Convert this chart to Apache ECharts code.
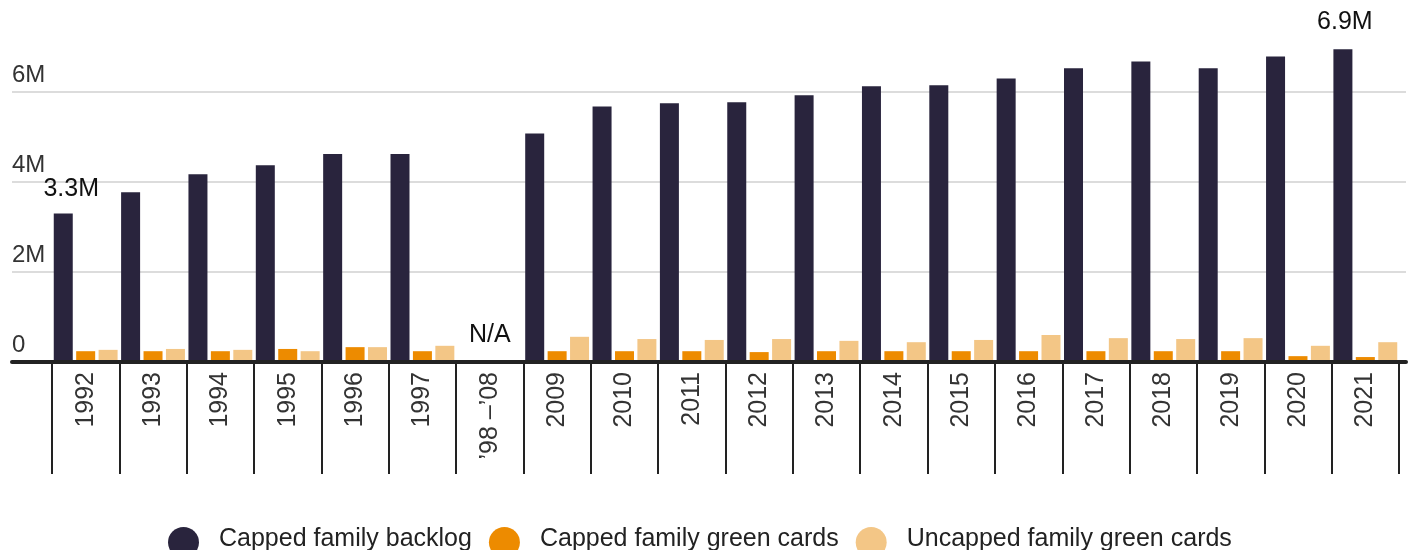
<!DOCTYPE html>
<html>
<head>
<meta charset="utf-8">
<script src="https://cdn.jsdelivr.net/npm/echarts@6/dist/echarts.min.js"></script>
<style>
  html, body { margin: 0; padding: 0; background: #fff; }
  #chart { width: 1413px; height: 550px; }
</style>
</head>
<body>
<div id="chart"></div>
<script>
// years on the category axis ('98–'08 has no data)
const years = ['1992', '1993', '1994', '1995', '1996', '1997', '\u201998 \u2013\u201908',
  '2009', '2010', '2011', '2012', '2013', '2014', '2015', '2016', '2017', '2018', '2019', '2020', '2021'];

// values in millions
const cappedBacklog = [3.30, 3.77, 4.17, 4.37, 4.62, 4.62, null,
  5.08, 5.68, 5.75, 5.77, 5.93, 6.13, 6.15, 6.30, 6.53, 6.68, 6.53, 6.79, 6.95];
const cappedGreenCards = [0.24, 0.24, 0.24, 0.29, 0.33, 0.24, null,
  0.24, 0.24, 0.24, 0.22, 0.24, 0.24, 0.24, 0.24, 0.24, 0.24, 0.24, 0.13, 0.11];
const uncappedGreenCards = [0.27, 0.29, 0.27, 0.24, 0.33, 0.36, null,
  0.56, 0.51, 0.49, 0.51, 0.47, 0.44, 0.49, 0.60, 0.53, 0.51, 0.53, 0.36, 0.44];

const yTicks = [0, 2, 4, 6];

const FONT = '"Liberation Sans", Arial, sans-serif';
const COLORS = { backlog: '#29243d', capped: '#ed8b00', uncapped: '#f3c686' };

const chart = echarts.init(document.getElementById('chart'));

const lastIdx = cappedBacklog.length - 1;
const backlogData = cappedBacklog.map((v, i) => {
  if (i === 0) {
    return { value: v, label: { show: true, formatter: '3.3M', offset: [8, 0] } };
  }
  if (i === lastIdx) {
    return { value: v, label: { show: true, formatter: '6.9M', offset: [2, -3] } };
  }
  return v;
});

const option = {
  animation: false,
  textStyle: { fontFamily: FONT },
  grid: [
    // background grid: gridlines + baseline, wider than the bars
    { left: 12, right: 7, top: 2, bottom: 188 },
    // bars
    { left: 52, right: 14, top: 2, bottom: 188 }
  ],
  legend: {
    left: 163,
    top: 522,
    icon: 'circle',
    itemWidth: 31,
    itemHeight: 31,
    itemGap: 17,
    // extra empty line under the name lifts the text above the circle's centre
    formatter: name => '{t|' + name + '}\n{s|}',
    textStyle: {
      padding: [0, 0, 0, 15],
      rich: {
        t: { fontSize: 25, color: '#222', fontFamily: FONT },
        s: { height: 6, fontSize: 1 }
      }
    },
    data: ['Capped family backlog', 'Capped family green cards', 'Uncapped family green cards']
  },
  xAxis: [
    {
      gridIndex: 0,
      type: 'value',
      min: 0,
      max: 1,
      z: 5,
      axisLine: { show: true, onZero: true, lineStyle: { color: '#222', width: 4 } },
      axisTick: { show: false },
      axisLabel: { show: false },
      splitLine: { show: false }
    },
    {
      gridIndex: 1,
      type: 'category',
      data: years,
      axisLine: { show: false },
      axisTick: { show: true, length: 112, lineStyle: { color: '#222', width: 2 } },
      axisLabel: {
        rotate: 90,
        margin: 10,
        fontSize: 25,
        color: '#333',
        fontFamily: FONT
      }
    }
  ],
  yAxis: [
    {
      gridIndex: 0,
      type: 'value',
      min: 0,
      max: 8,
      interval: 2,
      axisLine: { show: false },
      axisTick: { show: false },
      axisLabel: {
        inside: true,
        margin: 0,
        fontSize: 24,
        color: '#333',
        verticalAlign: 'bottom',
        padding: [0, 0, 5, 0],
        showMaxLabel: false,
        formatter: v => (yTicks.includes(v) ? (v === 0 ? '0' : v + 'M') : '')
      },
      splitLine: { show: true, showMaxLine: false, lineStyle: { color: '#dcdcdc', width: 2 } }
    },
    {
      gridIndex: 1,
      type: 'value',
      min: 0,
      max: 8,
      interval: 2,
      show: false,
      splitLine: { show: false }
    }
  ],
  series: [
    {
      name: 'Capped family backlog',
      type: 'bar',
      xAxisIndex: 1,
      yAxisIndex: 1,
      barWidth: 19,
      barGap: '18%',
      itemStyle: { color: COLORS.backlog },
      label: {
        show: false,
        position: 'top',
        distance: 12,
        fontSize: 25,
        color: '#111',
        fontFamily: FONT
      },
      data: backlogData
    },
    {
      name: 'Capped family green cards',
      type: 'bar',
      xAxisIndex: 1,
      yAxisIndex: 1,
      barWidth: 19,
      barGap: '18%',
      itemStyle: { color: COLORS.capped },
      data: cappedGreenCards,
      markPoint: {
        symbol: 'circle',
        symbolSize: 0,
        label: {
          show: true,
          position: 'top',
          distance: 14,
          formatter: 'N/A',
          fontSize: 25,
          color: '#111',
          fontFamily: FONT
        },
        data: [{ coord: [years[6], 0] }]
      }
    },
    {
      name: 'Uncapped family green cards',
      type: 'bar',
      xAxisIndex: 1,
      yAxisIndex: 1,
      barWidth: 19,
      barGap: '18%',
      itemStyle: { color: COLORS.uncapped },
      data: uncappedGreenCards
    }
  ]
};

chart.setOption(option);
</script>
</body>
</html>
